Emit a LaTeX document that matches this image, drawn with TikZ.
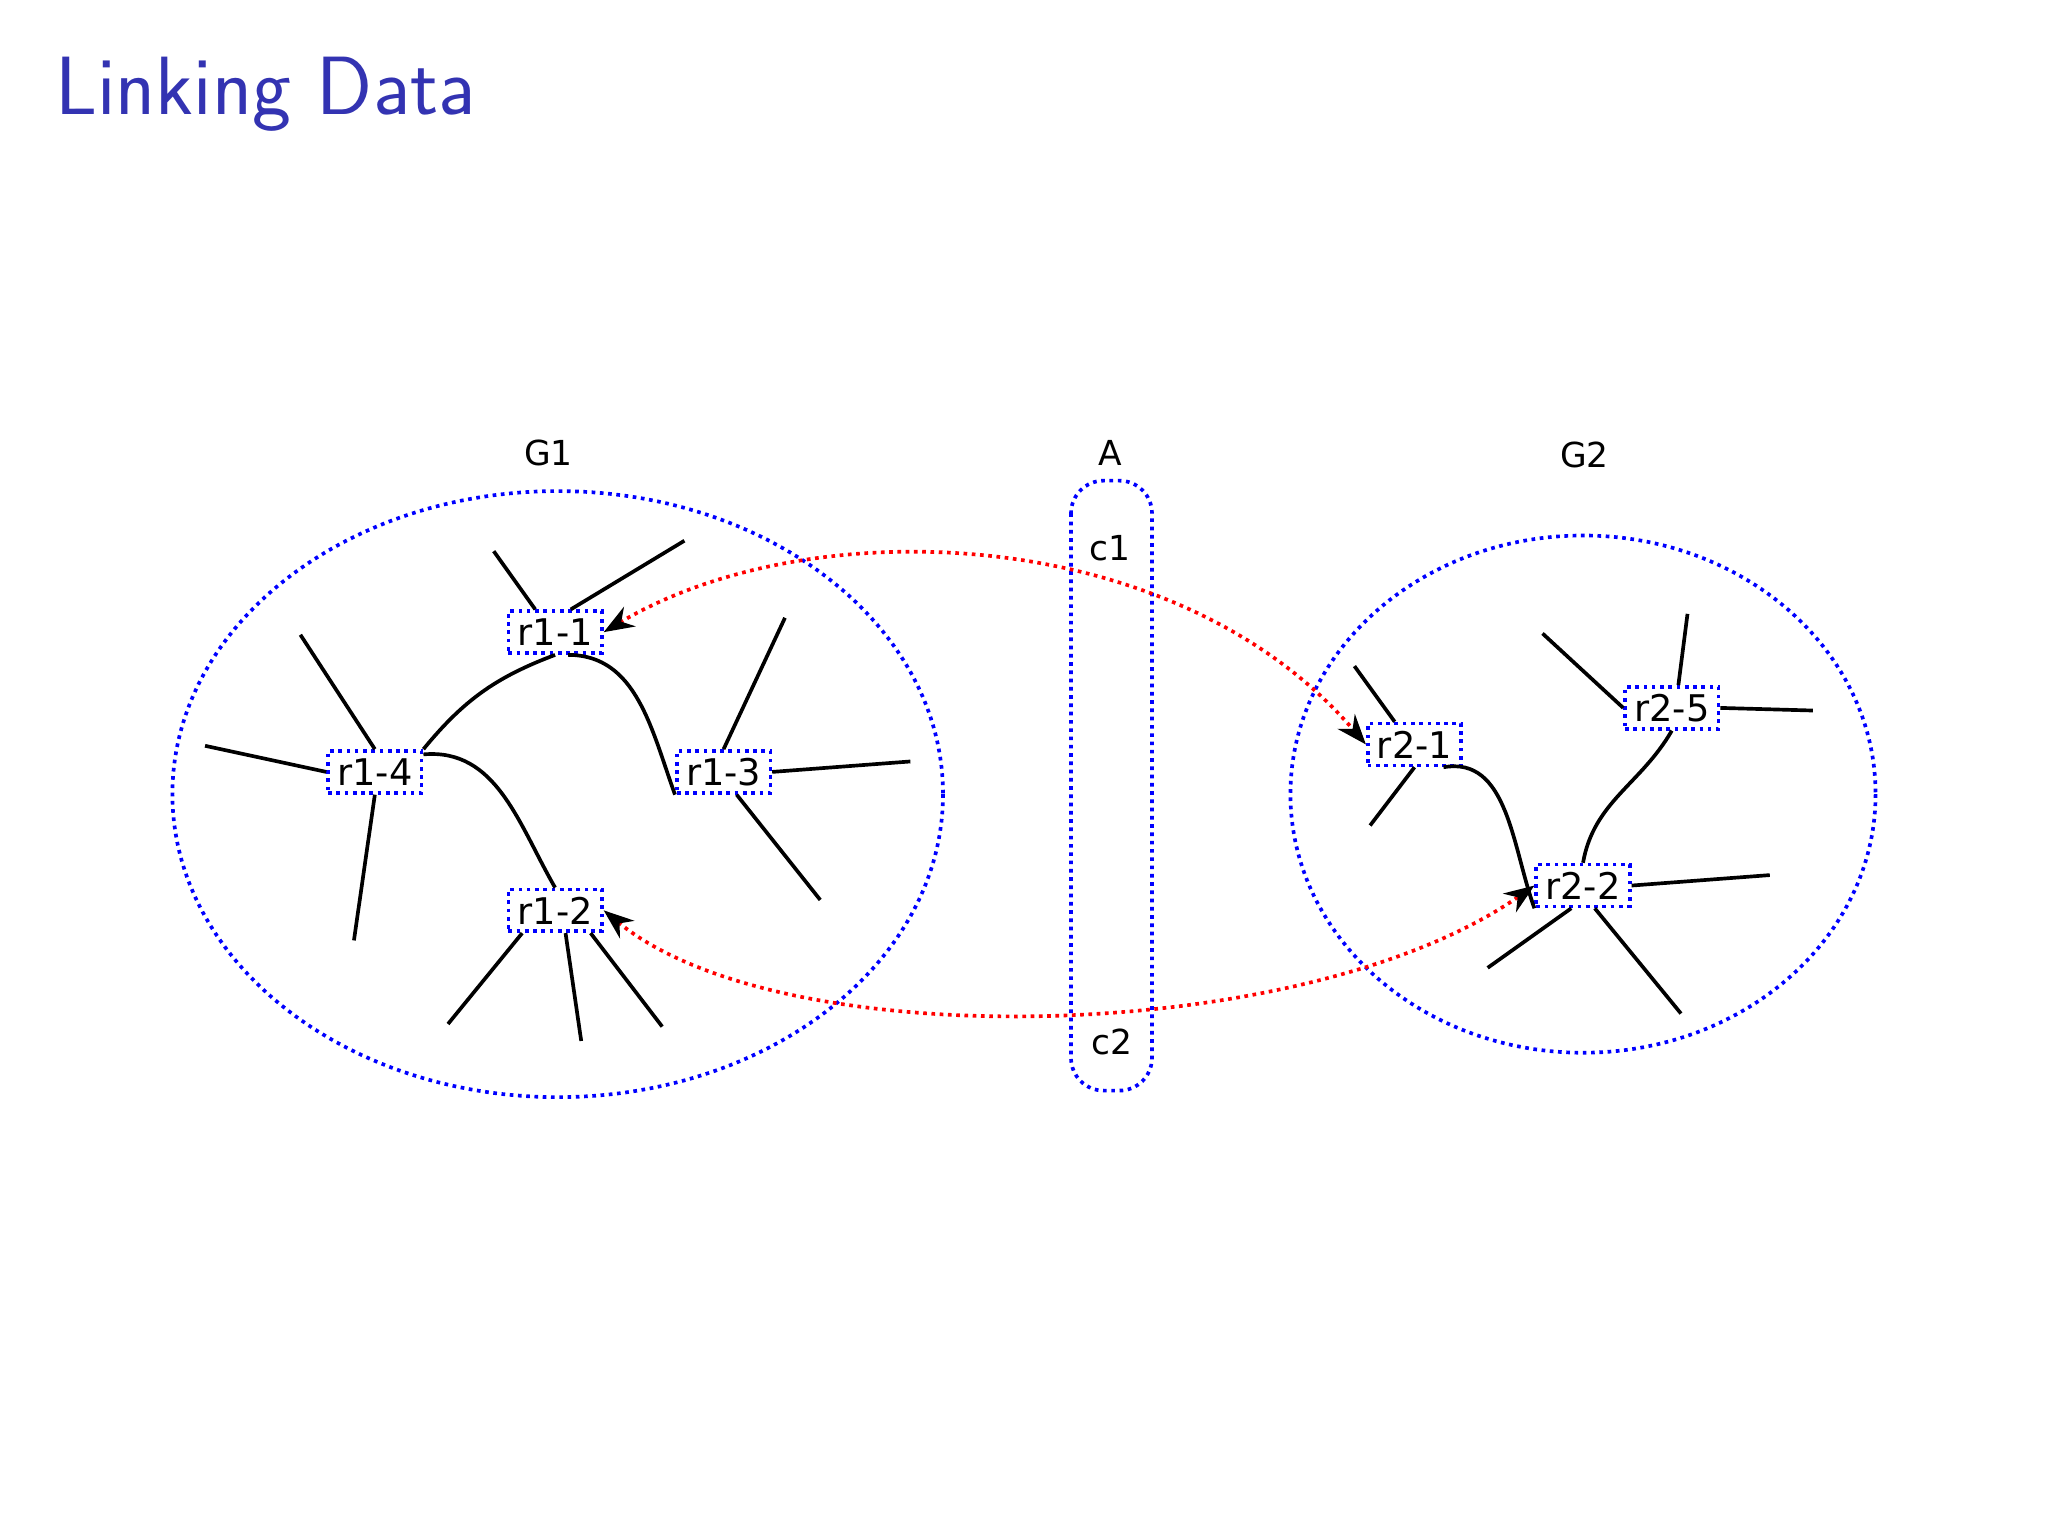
\documentclass[tikz,border=0pt]{standalone}
\usepackage{fontspec}
\setmainfont{DejaVu Sans}
\newfontfamily\titlefont{Latin Modern Sans}
\usetikzlibrary{arrows.meta}
\definecolor{btitle}{RGB}{51,51,178}
\begin{document}
\begin{tikzpicture}[x=0.01cm,y=-0.01cm,
  rbox/.style={draw=blue,densely dotted,thick,inner xsep=2pt,inner ysep=1pt,minimum height=0.32cm,font=\fontsize{8}{9}\selectfont},
  lbl/.style={font=\fontsize{7.5}{9}\selectfont},
  grp/.style={draw=blue,densely dotted,thick},
  edge/.style={thick,black},
  link/.style={red,densely dotted,thick,{Stealth[black]}-{Stealth[black]}}]
\useasboundingbox (0,0) rectangle (1568,1176);
\fill[white] (0,0) rectangle (1568,1176);
\node[anchor=west,text=btitle,font=\titlefont\fontsize{18}{20}\selectfont] (title) at (30,72) {Linking Data};
% groups
\draw[grp] (427,608) ellipse [x radius=295, y radius=232];
\draw[grp] (1212,608) ellipse [x radius=224, y radius=198];
\draw[grp,rounded corners=0.25cm] (820,368) rectangle (882,835);
\node[lbl] (g1) at (420,347) {G1};
\node[lbl] (g2) at (1213,348) {G2};
\node[lbl] (a) at (850,347) {A};
\node[lbl] (c1) at (850,420) {c1};
\node[lbl] (c2) at (851,798) {c2};
% nodes
\node[rbox] (r11) at (425,484) {r1-1};
\node[rbox] (r14) at (287,591) {r1-4};
\node[rbox] (r13) at (554,591) {r1-3};
\node[rbox] (r12) at (425,697) {r1-2};
\node[rbox] (r21) at (1083,570) {r2-1};
\node[rbox] (r25) at (1280,542) {r2-5};
\node[rbox] (r22) at (1212,678) {r2-2};
% free ends
\coordinate (e1) at (378,422); \coordinate (e2) at (524,414);
\coordinate (e3) at (230,486); \coordinate (e4) at (157,571); \coordinate (e5) at (271,720);
\coordinate (e6) at (601,473); \coordinate (e7) at (697,583); \coordinate (e8) at (628,689);
\coordinate (e9) at (343,784); \coordinate (e10) at (445,797); \coordinate (e11) at (507,786);
\coordinate (f1) at (1037,510); \coordinate (f2) at (1049,632);
\coordinate (f3) at (1181,485); \coordinate (f4) at (1292,470); \coordinate (f5) at (1388,544);
\coordinate (f6) at (1355,670); \coordinate (f7) at (1139,741); \coordinate (f8) at (1287,776);
\draw[edge] (r11.north west) ++(22,0) -- (e1);
\draw[edge] (r11.north) ++(12,0) -- (e2);
\draw[edge] (r14.north) -- (e3);
\draw[edge] (r14.west) -- (e4);
\draw[edge] (r14.south) -- (e5);
\draw[edge] (r13.north) -- (e6);
\draw[edge] (r13.east) -- (e7);
\draw[edge] (r13.south) ++(10,0) -- (e8);
\draw[edge] (r12.south west) ++(12,0) -- (e9);
\draw[edge] (r12.south) ++(8,0) -- (e10);
\draw[edge] (r12.south east) ++(-10,0) -- (e11);
\draw[edge] (r21.north west) ++(22,0) -- (f1);
\draw[edge] (r21.south) -- (f2);
\draw[edge] (r25.west) -- (f3);
\draw[edge] (r25.north) ++(5,0) -- (f4);
\draw[edge] (r25.east) -- (f5);
\draw[edge] (r22.east) -- (f6);
\draw[edge] (r22.south) ++(-9,0) -- (f7);
\draw[edge] (r22.south) ++(9,0) -- (f8);
% curved edges
\draw[edge] (r11.south) to[bend right=15] (r14.north east);
\draw[edge] (r11.south) ++(10,0) to[out=0,in=110] (r13.south west);
\draw[edge] (r14.north east) ++(0,4) to[out=5,in=120] (r12.north);
\draw[edge] (r21.south east) ++(-15,0) to[out=10,in=110] (r22.south west);
\draw[edge] (r25.south) to[out=240,in=80] (r22.north);
% links
\draw[link] (r11.east) .. controls (620,390) and (900,400) .. (r21.west);
\draw[link] (r12.east) .. controls (600,810) and (1000,800) .. (r22.west);
\end{tikzpicture}
\end{document}
